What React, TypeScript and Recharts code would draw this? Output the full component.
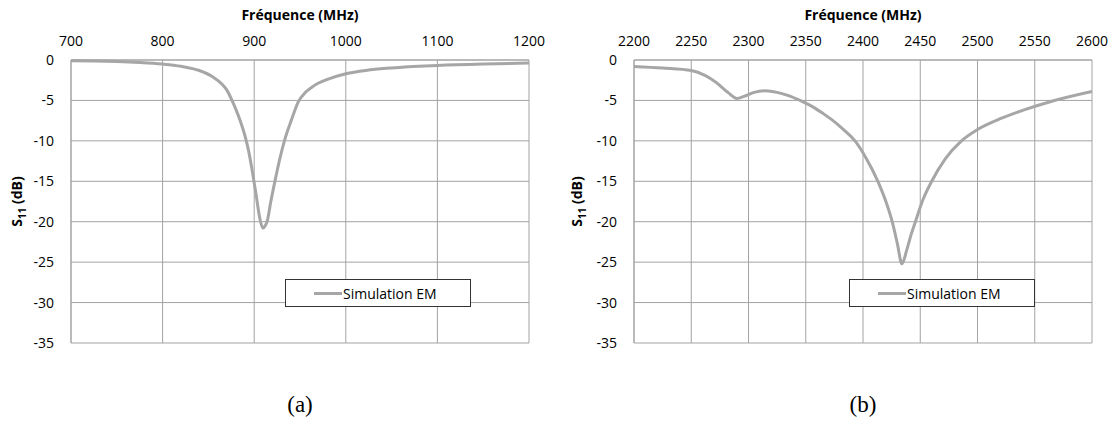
import { LineChart, Line, XAxis, YAxis, CartesianGrid } from 'recharts';

// (a) band 700-1200 MHz
const freqA = [700, 725, 750, 775, 800, 820, 840, 855, 865, 870, 875, 880, 885, 890, 894, 898, 902, 906, 909.5, 912, 914.5, 918, 923, 928, 934, 941, 948, 956, 965, 980, 1000, 1025, 1050, 1100, 1150, 1200];
const s11A = [-0.1, -0.12, -0.18, -0.3, -0.5, -0.78, -1.3, -2.1, -3.0, -3.7, -4.8, -6.1, -7.6, -9.4, -11.3, -13.8, -16.6, -19.5, -20.8, -20.5, -19.8, -17.6, -14.8, -12.2, -9.6, -7.3, -5.2, -4.0, -3.2, -2.4, -1.7, -1.25, -0.98, -0.68, -0.5, -0.38];

// (b) band 2200-2600 MHz
const freqB = [2200, 2225, 2250, 2262, 2272, 2282, 2290, 2296, 2305, 2315, 2325, 2335, 2345, 2355, 2365, 2373, 2383, 2393, 2403, 2413, 2420, 2425.5, 2430, 2434, 2438, 2442, 2446, 2452, 2460, 2472, 2486, 2500, 2521, 2540, 2565, 2600];
const s11B = [-0.8, -1.0, -1.3, -1.9, -2.8, -4.0, -4.75, -4.5, -4.0, -3.8, -4.0, -4.4, -5.0, -5.7, -6.6, -7.4, -8.6, -10, -12.2, -15, -17.5, -20, -22.7, -25.2, -23.6, -21.6, -19.9, -17.4, -15, -12.2, -10, -8.6, -7.2, -6.2, -5.1, -3.9];

const ticksA = [700, 800, 900, 1000, 1100, 1200];
const ticksB = [2200, 2250, 2300, 2350, 2400, 2450, 2500, 2550, 2600];
const ticksY = [-35, -30, -25, -20, -15, -10, -5, 0];

const seriesName = 'Simulation EM';
const xTitle = 'Fréquence (MHz)';

const FONT = '"Open Sans", sans-serif';
const GRID = '#a3a3a3';
const CURVE = '#a6a6a6';

const toRows = (xs: number[], ys: number[]) => xs.map((f, i) => ({ f, s: ys[i] }));

const YTitle = ({ viewBox }: any) => {
  const cy = viewBox.y + viewBox.height / 2;
  const x = viewBox.x + 22;
  return (
    <text
      x={x}
      y={cy}
      transform={`rotate(-90 ${x} ${cy})`}
      textAnchor="middle"
      fontFamily={FONT}
      fontSize={14}
      fontWeight={700}
      fill="#000"
    >
      S<tspan fontSize={10} dy={4}>11</tspan>
      <tspan dy={-4}> (dB)</tspan>
    </text>
  );
};

const LegendBox = ({ left }: { left: number }) => (
  <div
    style={{
      position: 'absolute',
      left,
      top: 279,
      width: 184,
      height: 26,
      border: '1px solid #333',
      background: '#fff',
      display: 'flex',
      alignItems: 'center',
      fontFamily: FONT,
      fontSize: 14,
      color: '#000',
    }}
  >
    <div style={{ width: 28, height: 3, background: CURVE, marginLeft: 28, marginRight: 1 }} />
    <span>{seriesName}</span>
  </div>
);

function SParamChart({ rows, domain, ticks, width, yWidth }: any) {
  return (
    <LineChart
      width={width}
      height={360}
      data={rows}
      margin={{ top: 30, right: width - yWidth - 458, bottom: 17, left: 0 }}
    >
      <CartesianGrid stroke={GRID} strokeWidth={1} />
      <XAxis
        dataKey="f"
        type="number"
        orientation="top"
        domain={domain}
        ticks={ticks}
        height={30}
        tickSize={0}
        tickMargin={14}
        axisLine={{ stroke: GRID }}
        tick={{ fontFamily: FONT, fontSize: 14, fill: '#000' }}
        interval={0}
        allowDataOverflow
        label={{ value: xTitle, position: 'top', offset: 10, fontFamily: FONT, fontSize: 14, fontWeight: 700, fill: '#000' }}
      />
      <YAxis
        type="number"
        domain={[-35, 0]}
        ticks={ticksY}
        width={yWidth}
        tickSize={0}
        tickMargin={17}
        axisLine={{ stroke: GRID }}
        tick={{ fontFamily: FONT, fontSize: 14, fill: '#000' }}
        interval={0}
        label={<YTitle />}
      />
      <Line
        dataKey="s"
        name={seriesName}
        type="monotone"
        stroke={CURVE}
        strokeWidth={3}
        dot={false}
        isAnimationActive={false}
      />
    </LineChart>
  );
}

export default function App() {
  return (
    <div style={{ position: 'absolute', left: 0, top: 0, width: 1115, height: 423, background: '#fff' }}>
      <div style={{ position: 'absolute', left: 0, top: 0 }}>
        <SParamChart rows={toRows(freqA, s11A)} domain={[700, 1200]} ticks={ticksA} width={560} yWidth={71} />
      </div>
      <div style={{ position: 'absolute', left: 560, top: 0 }}>
        <SParamChart rows={toRows(freqB, s11B)} domain={[2200, 2600]} ticks={ticksB} width={555} yWidth={74} />
      </div>
      <LegendBox left={285} />
      <LegendBox left={849} />
      <div style={{ position: 'absolute', left: 250, top: 392, width: 100, textAlign: 'center', fontFamily: '"Liberation Serif", serif', fontSize: 23 }}>(a)</div>
      <div style={{ position: 'absolute', left: 813, top: 392, width: 100, textAlign: 'center', fontFamily: '"Liberation Serif", serif', fontSize: 23 }}>(b)</div>
    </div>
  );
}
